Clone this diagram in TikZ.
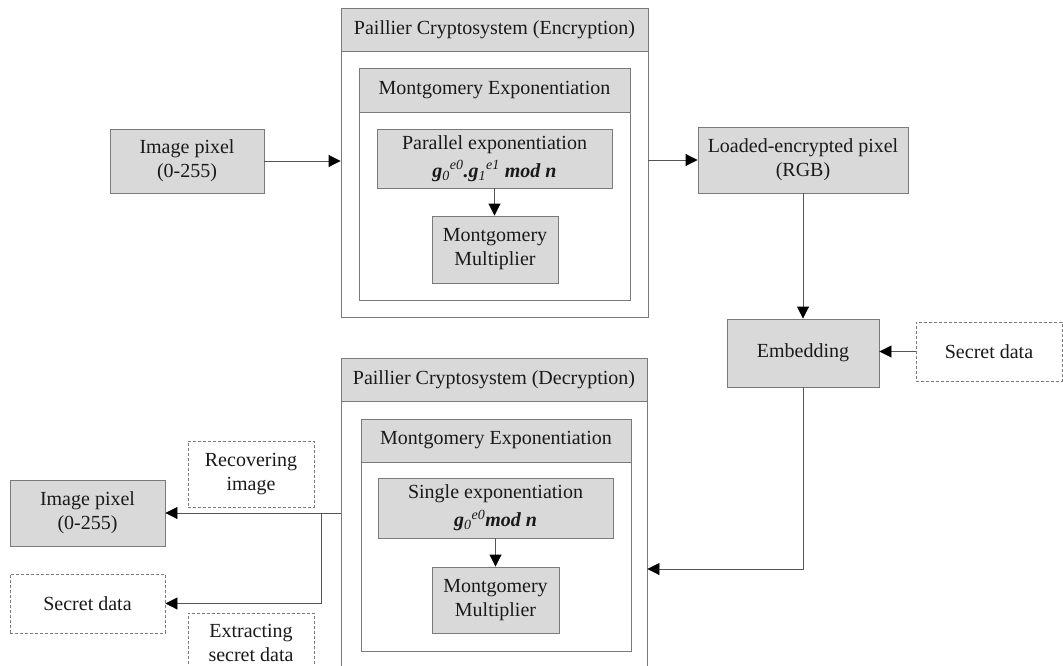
\documentclass[tikz,border=0pt]{standalone}
\usepackage{fontspec}
\setmainfont{Liberation Serif}
\usetikzlibrary{arrows.meta,calc}

\definecolor{boxfill}{HTML}{D9D9D9}
\definecolor{boxline}{HTML}{7A7A7A}
\definecolor{wire}{HTML}{555555}
\definecolor{ink}{HTML}{1A1A1A}

\tikzset{
  base/.style={rectangle, inner sep=0pt, align=center, text=ink,
    font=\fontsize{20}{24}\selectfont, line width=0.9pt},
  graybox/.style={base, draw=boxline, fill=boxfill},
  framebox/.style={base, draw=boxline, fill=white},
  hdrbox/.style={base, draw=boxline, fill=boxfill},
  dashbox/.style={base, draw=boxline, fill=white, dash pattern=on 3pt off 2pt},
  arr/.style={draw=wire, line width=0.9pt,
    -{Triangle[length=12pt,width=12pt,color=black]}},
  wireline/.style={draw=wire, line width=0.9pt}
}

\newcommand{\bi}[1]{\textbf{\textit{#1}}}

\begin{document}
\begin{tikzpicture}[x=1pt,y=-1pt]
\useasboundingbox (0,0) rectangle (1063,666);
\fill[white] (0,0) rectangle (1063,666);
\clip (0,0) rectangle (1063,666);

% ---------- Encryption block ----------
\node[framebox, minimum width=307pt, minimum height=309pt] (enc) at (494.5,162.5) {};
\node[hdrbox, minimum width=307pt, minimum height=43pt, anchor=north] (enchd) at (enc.north)
  {Paillier Cryptosystem (Encryption)};
\node[framebox, minimum width=271pt, minimum height=232pt] (encm) at (494.5,184) {};
\node[hdrbox, minimum width=271pt, minimum height=44pt, anchor=north] (encmhd) at (encm.north)
  {Montgomery Exponentiation};
\node[graybox, minimum width=235pt, minimum height=59pt, font=\fontsize{20}{28}\selectfont] (par) at (494.5,158.5)
  {Parallel exponentiation\\
   \bi{g}\textsubscript{\textit{0}}\textsuperscript{\textit{e0}}\bi{.g}\textsubscript{\textit{1}}\textsuperscript{\textit{e1}}\bi{ mod n}};
\node[graybox, minimum width=126pt, minimum height=67pt] (mul1) at (495,249.5)
  {Montgomery\\Multiplier};
\draw[arr] (par.south) -- (par.south |- mul1.north);

% ---------- Decryption block ----------
\node[framebox, minimum width=306pt, minimum height=362pt] (dec) at (494,539) {};
\node[hdrbox, minimum width=306pt, minimum height=43pt, anchor=north] (dechd) at (dec.north)
  {Paillier Cryptosystem (Decryption)};
\node[framebox, minimum width=270pt, minimum height=232pt] (decm) at (496,535) {};
\node[hdrbox, minimum width=270pt, minimum height=43pt, anchor=north] (decmhd) at (decm.north)
  {Montgomery Exponentiation};
\node[graybox, minimum width=235pt, minimum height=60pt, font=\fontsize{20}{28}\selectfont] (sgl) at (495.5,508)
  {Single exponentiation\\
   \bi{g}\textsubscript{\textit{0}}\textsuperscript{\textit{e0}}\bi{mod n}};
\node[graybox, minimum width=127pt, minimum height=66pt] (mul2) at (495.5,600)
  {Montgomery\\Multiplier};
\draw[arr] (sgl.south) -- (sgl.south |- mul2.north);

% ---------- Outer flow ----------
\node[graybox, minimum width=154pt, minimum height=64pt] (pix1) at (187,161)
  {Image pixel\\(0-255)};
\node[graybox, minimum width=210pt, minimum height=66pt] (load) at (803,160)
  {Loaded-encrypted pixel\\(RGB)};
\node[graybox, minimum width=152pt, minimum height=68pt] (emb) at (803,353)
  {Embedding};
\node[dashbox, minimum width=146pt, minimum height=59pt] (sec1) at (989,351.5)
  {Secret data};

\draw[arr] (pix1.east) -- (pix1.east -| enc.west);
\draw[arr] (enc.east |- load.west) -- (load.west);
\draw[arr] (load.south) -- (emb.north);
\draw[arr] (sec1.west) -- (sec1.west -| emb.east);
\coordinate (decin) at (dec.east |- 0,569);
\draw[arr] (emb.south) |- (decin);

% ---------- Outputs ----------
\node[graybox, minimum width=155pt, minimum height=66pt] (pix2) at (87.5,513)
  {Image pixel\\(0-255)};
\node[dashbox, minimum width=155pt, minimum height=59pt] (sec2) at (87.5,603.5)
  {Secret data};
\node[dashbox, minimum width=126pt, minimum height=66pt] (rec) at (251,474)
  {Recovering\\image};
\node[dashbox, minimum width=126pt, minimum height=60pt, anchor=north] (ext) at (251,613)
  {Extracting\\secret data};

\draw[arr] (dec.west |- pix2.east) -- (pix2.east);
\coordinate (split) at (321,513);
\draw[arr] (split) |- (sec2.east);
\end{tikzpicture}
\end{document}
